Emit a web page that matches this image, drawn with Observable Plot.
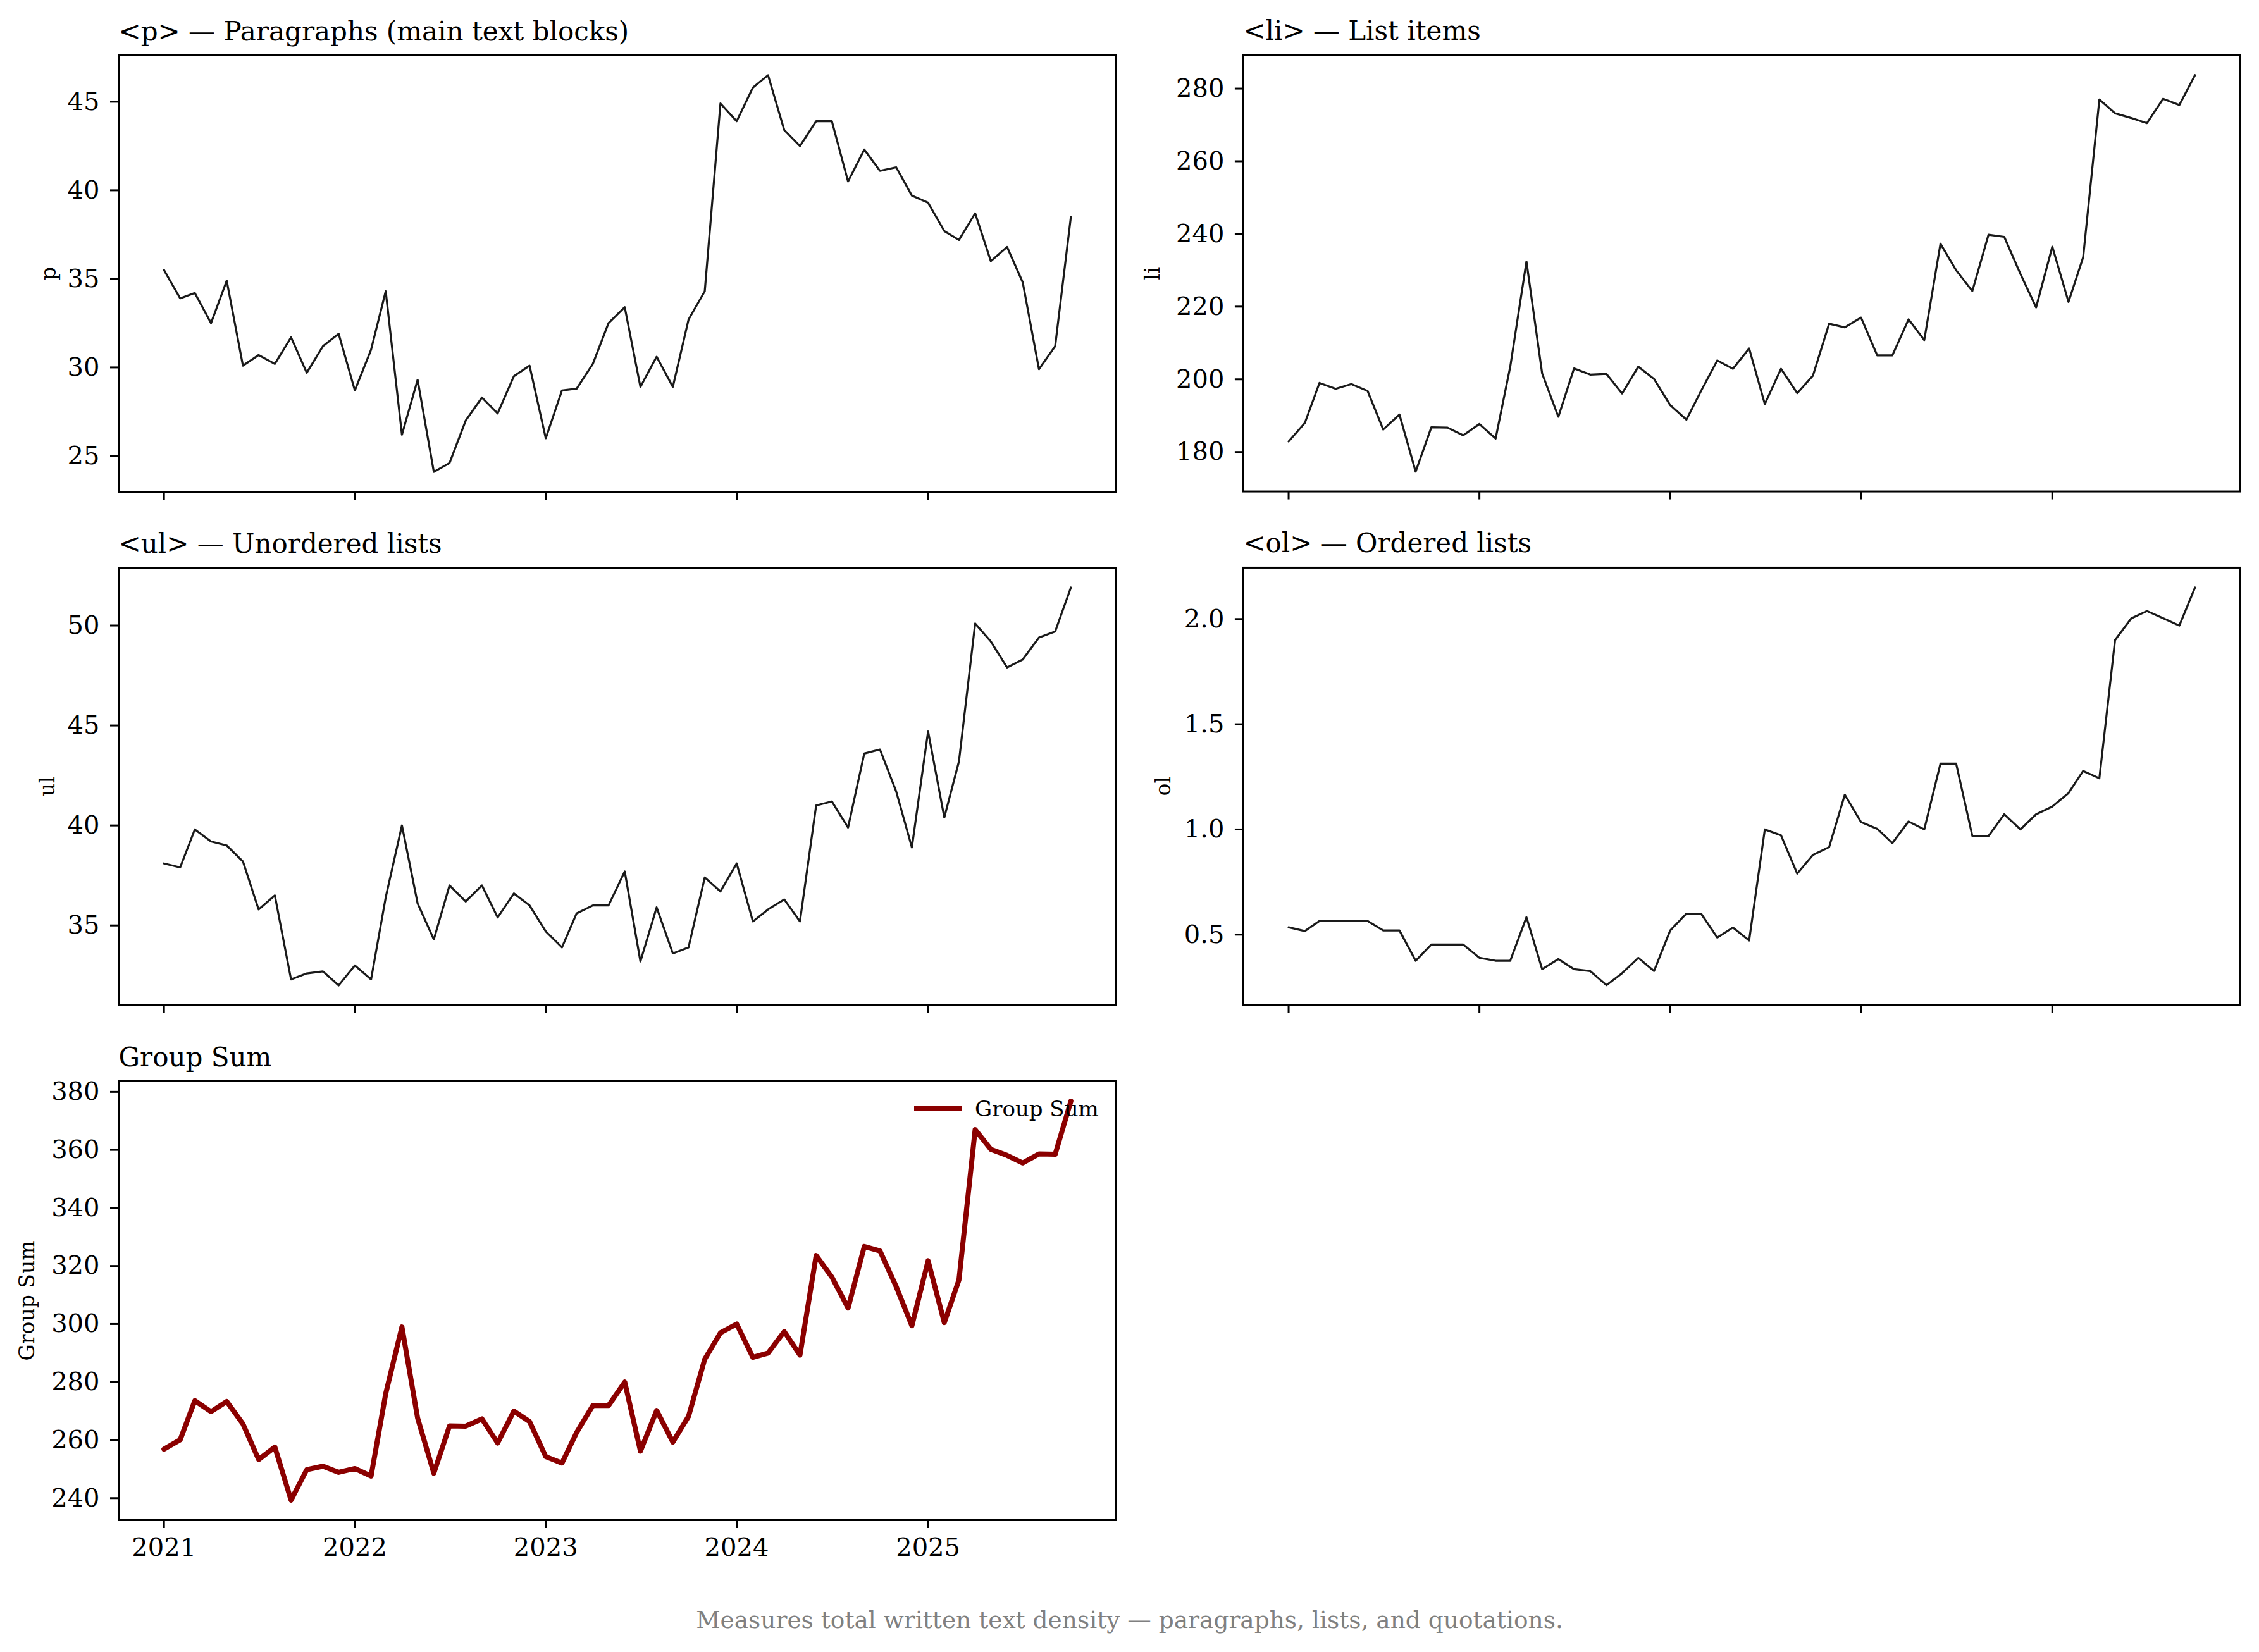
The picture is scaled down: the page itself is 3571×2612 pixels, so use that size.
<!DOCTYPE html>
<html><head><meta charset="utf-8">
<script src="https://cdn.jsdelivr.net/npm/d3@7"></script>
<script src="https://cdn.jsdelivr.net/npm/@observablehq/plot@0.6"></script>
<style>
html,body{margin:0;padding:0;background:#fff;}
#root{position:relative;width:3571px;height:2612px;background:#fff;font-family:"DejaVu Serif",serif;overflow:hidden;}
.panel{position:absolute;}
#caption{position:absolute;left:0;width:3571px;top:2543px;text-align:center;color:#808080;font-size:37.5px;line-height:1;font-family:"DejaVu Serif",serif;}
#legend{position:absolute;left:1445px;top:1733px;height:40px;display:flex;align-items:center;font-family:"DejaVu Serif",serif;font-size:34px;color:#000;}
#legend .sw{width:76px;height:8px;background:#8b0000;margin-right:20px;}
</style></head><body><div id="root"></div>
<script>
const months = ["2021-01","2021-02","2021-03","2021-04","2021-05","2021-06","2021-07","2021-08","2021-09","2021-10","2021-11","2021-12",
"2022-01","2022-02","2022-03","2022-04","2022-05","2022-06","2022-07","2022-08","2022-09","2022-10","2022-11","2022-12",
"2023-01","2023-02","2023-03","2023-04","2023-05","2023-06","2023-07","2023-08","2023-09","2023-10","2023-11","2023-12",
"2024-01","2024-02","2024-03","2024-04","2024-05","2024-06","2024-07","2024-08","2024-09","2024-10","2024-11","2024-12",
"2025-01","2025-02","2025-03","2025-04","2025-05","2025-06","2025-07","2025-08","2025-09","2025-10"];

const pVals = [35.5,33.9,34.2,32.5,34.9,30.1,30.7,30.2,31.7,29.7,31.2,31.9,28.7,31.0,34.3,26.2,29.3,24.1,24.6,27.0,28.3,27.4,29.5,30.1,26.0,28.7,28.8,30.2,32.5,33.4,28.9,30.6,28.9,32.7,34.3,44.9,43.9,45.8,46.5,43.4,42.5,43.9,43.9,40.5,42.3,41.1,41.3,39.7,39.3,37.7,37.2,38.7,36.0,36.8,34.8,29.9,31.2,38.5];
const liVals = [182.9,188.0,199.0,197.4,198.7,196.8,186.2,190.3,174.6,186.8,186.7,184.6,187.7,183.7,203.5,232.4,201.6,189.7,203.0,201.3,201.5,196.1,203.5,200.1,192.9,188.9,196.8,205.2,202.9,208.5,193.2,202.9,196.2,201.0,215.3,214.3,217.0,206.6,206.6,216.5,210.8,237.3,230.0,224.3,239.8,239.2,229.0,219.8,236.5,221.3,233.6,277.0,273.2,271.9,270.5,277.2,275.5,283.7];
const ulVals = [38.1,37.9,39.8,39.2,39.0,38.2,35.8,36.5,32.3,32.6,32.7,32.0,33.0,32.3,36.4,40.0,36.1,34.3,37.0,36.2,37.0,35.4,36.6,36.0,34.7,33.9,35.6,36.0,36.0,37.7,33.2,35.9,33.6,33.9,37.4,36.7,38.1,35.2,35.8,36.3,35.2,41.0,41.2,39.9,43.6,43.8,41.7,38.9,44.7,40.4,43.2,50.1,49.2,47.9,48.3,49.4,49.7,51.9];
const olVals = [0.535,0.517,0.565,0.565,0.565,0.565,0.52,0.52,0.376,0.453,0.453,0.453,0.39,0.376,0.376,0.583,0.336,0.384,0.336,0.327,0.26,0.317,0.39,0.327,0.52,0.6,0.6,0.486,0.534,0.472,1.0,0.972,0.79,0.879,0.916,1.165,1.035,1.003,0.935,1.038,1.0,1.313,1.313,0.969,0.969,1.072,1.0,1.072,1.109,1.173,1.278,1.243,1.9,2.003,2.038,2.004,1.969,2.15];
const groupVals = [256.9,260.1,273.6,269.8,273.3,265.6,253.3,257.6,239.3,249.8,251.0,248.9,250.2,247.6,276.0,299.0,267.6,248.6,264.9,264.8,267.3,259.0,270.0,266.4,254.3,252.1,262.6,271.9,271.9,280.0,256.2,270.2,259.3,268.2,287.9,297.0,300.0,288.5,290.0,297.4,289.3,323.6,316.2,305.5,326.7,325.2,312.9,299.4,321.8,300.5,315.2,367.0,360.2,358.1,355.5,358.6,358.5,376.8];

const yearTicks = ["2021-01-01","2022-01-01","2023-01-01","2024-01-01","2025-01-01"];
const titles = ["<p> — Paragraphs (main text blocks)", "<li> — List items", "<ul> — Unordered lists", "<ol> — Ordered lists", "Group Sum"];
const yLabels = ["p", "li", "ul", "ol", "Group Sum"];
const yTickSets = [[25,30,35,40,45],[180,200,220,240,260,280],[35,40,45,50],[0.5,1.0,1.5,2.0],[240,260,280,300,320,340,360,380]];
const captionText = "Measures total written text density — paragraphs, lists, and quotations.";
const legendText = "Group Sum";

const parse = d3.utcParse("%Y-%m");
const dates = months.map(parse);
const yearDates = yearTicks.map(d3.utcParse("%Y-%m-%d"));
const t0 = dates[0], t1 = dates[dates.length - 1];
const tpad = (t1 - t0) * 0.05;
const xDomain = [new Date(+t0 - tpad), new Date(+t1 + tpad)];

const series = [pVals, liVals, ulVals, olVals, groupVals];
const layout = [
  {col:0,row:0,labelDx:-110},
  {col:1,row:0,labelDx:-143},
  {col:0,row:1,labelDx:-112},
  {col:1,row:1,labelDx:-126},
  {col:0,row:2,labelDx:-144}
];
const colLeft = [187, 1965];
const rowTop = [87, 897, 1709];
const rowH = [690, 692, 694];
const panelW = 1577;
const ML = 187, MR = 30, MT = 87, MB = 130;

const root = document.getElementById("root");

series.forEach((vals, i) => {
  const L = layout[i];
  const data = vals.map((v, j) => ({date: dates[j], value: v}));
  const [lo, hi] = d3.extent(vals);
  const pad = (hi - lo) * 0.05;
  const isGroup = i === 4;
  const bottom = L.row === 2;
  const fmt = i === 3 ? d3.format(".1f") : d3.format("d");
  const chart = Plot.plot({
    width: ML + panelW + MR,
    height: MT + rowH[L.row] + MB,
    marginLeft: ML, marginRight: MR, marginTop: MT, marginBottom: MB,
    x: {type: "utc", domain: xDomain},
    y: {domain: [lo - pad, hi + pad]},
    style: {fontFamily: "DejaVu Serif", fontSize: "40px", color: "#000", background: "transparent", overflow: "visible"},
    marks: [
      Plot.axisX({ticks: yearDates, tickSize: 13, tickPadding: 15, strokeWidth: 3, label: null,
        tickFormat: bottom ? d3.utcFormat("%Y") : () => "", fontSize: 40}),
      Plot.axisY({ticks: yTickSets[i], tickSize: 13, tickPadding: 17, strokeWidth: 3, label: null,
        tickFormat: fmt, fontSize: 40}),
      Plot.lineY(data, {x: "date", y: "value", stroke: isGroup ? "#8b0000" : "#1a1a1a", strokeWidth: isGroup ? 8 : 3.2}),
      Plot.frame({stroke: "#000", strokeWidth: 3}),
      Plot.text([titles[i]], {frameAnchor: "top-left", textAnchor: "start", lineAnchor: "bottom", dy: -24, fontSize: 42}),
      Plot.text([yLabels[i]], {frameAnchor: "left", rotate: -90, dx: L.labelDx, fontSize: 33, textAnchor: "middle", lineAnchor: "middle"})
    ]
  });
  const wrap = document.createElement("div");
  wrap.className = "panel";
  wrap.style.left = (colLeft[L.col] - ML) + "px";
  wrap.style.top = (rowTop[L.row] - MT) + "px";
  wrap.appendChild(chart);
  root.appendChild(wrap);
});

const legend = document.createElement("div");
legend.id = "legend";
legend.innerHTML = '<div class="sw"></div><span></span>';
legend.querySelector("span").textContent = legendText;
root.appendChild(legend);

const cap = document.createElement("div");
cap.id = "caption";
cap.textContent = captionText;
root.appendChild(cap);
</script>
</body></html>
